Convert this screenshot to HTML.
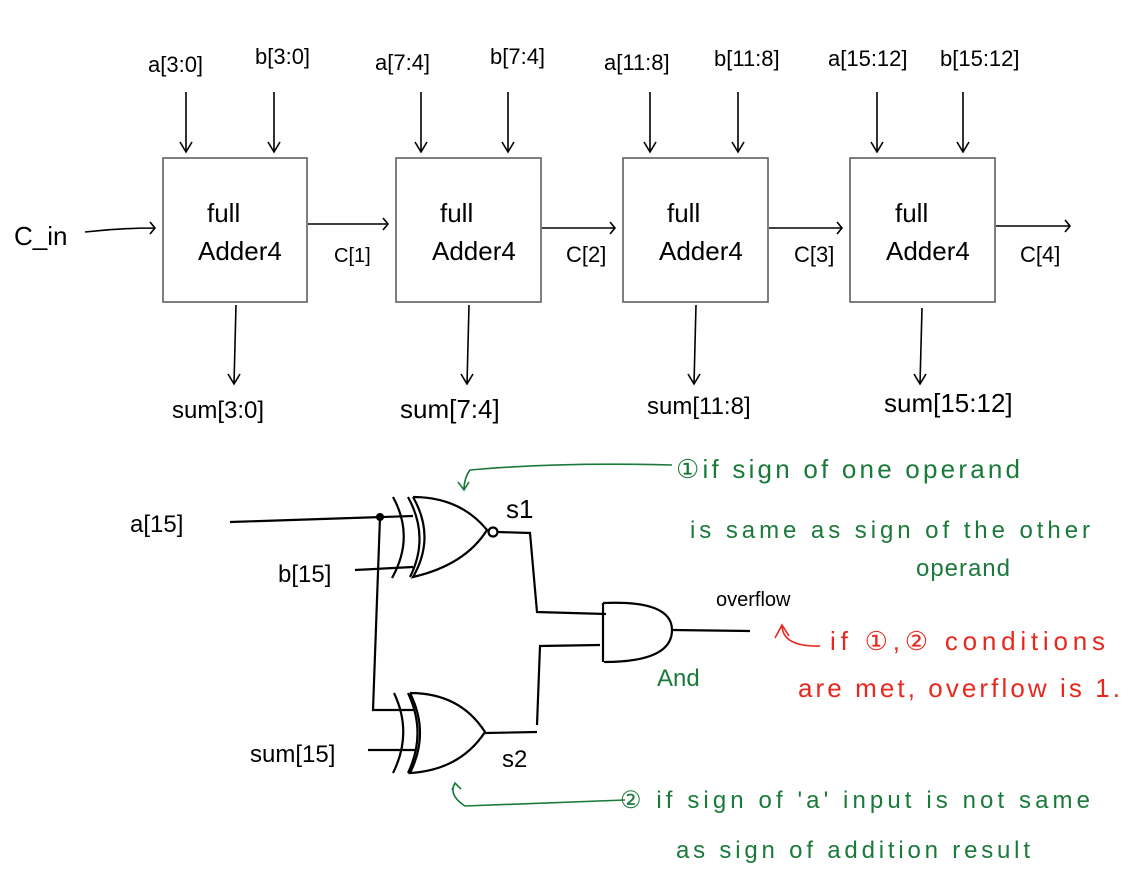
<!DOCTYPE html>
<html><head><style>
html,body{margin:0;padding:0;background:#fff;}
svg text{font-family:"Liberation Sans",sans-serif;}
</style></head><body>
<svg width="1130" height="882" viewBox="0 0 1130 882" xmlns="http://www.w3.org/2000/svg">
<g fill="none" stroke="#555" stroke-width="1.5">
<rect x="163" y="158" width="144" height="144"/>
<rect x="396" y="158" width="145" height="144"/>
<rect x="623" y="158" width="145" height="144"/>
<rect x="850" y="158" width="145" height="144"/>
</g>
<g fill="none" stroke="#000" stroke-width="1.6">
<path d="M186 92V152M180 142l6 10 6-10"/>
<path d="M274 92V152M268 142l6 10 6-10"/>
<path d="M421 92V152M415 142l6 10 6-10"/>
<path d="M508 92V152M502 142l6 10 6-10"/>
<path d="M650 92V152M644 142l6 10 6-10"/>
<path d="M738 92V152M732 142l6 10 6-10"/>
<path d="M877 92V152M871 142l6 10 6-10"/>
<path d="M963 92V152M957 142l6 10 6-10"/>
<path d="M85 232Q120 228 155 228M150 222l5 6-5 6"/>
<path d="M308 224H388M383 218l5 6-5 6"/>
<path d="M542 228H615M610 222l5 6-5 6"/>
<path d="M769 228H842M837 222l5 6-5 6"/>
<path d="M996 226H1070M1065 220l5 6-5 6"/>
<path d="M236 305L234 384M228 374l6 10 6-10"/>
<path d="M469 305L467 384M461 374l6 10 6-10"/>
<path d="M696 305L694 384M688 374l6 10 6-10"/>
<path d="M922 308L920 384M914 374l6 10 6-10"/>
</g>
<g font-size="26" fill="#000">
<text x="148" y="72" font-size="22">a[3:0]</text>
<text x="255" y="64" font-size="22">b[3:0]</text>
<text x="375" y="70" font-size="22">a[7:4]</text>
<text x="490" y="64" font-size="22">b[7:4]</text>
<text x="604" y="70" font-size="22">a[11:8]</text>
<text x="714" y="66" font-size="22">b[11:8]</text>
<text x="828" y="66" font-size="22">a[15:12]</text>
<text x="940" y="66" font-size="22">b[15:12]</text>
<text x="207" y="222">full</text><text x="198" y="260">Adder4</text>
<text x="440" y="222">full</text><text x="432" y="260">Adder4</text>
<text x="667" y="222">full</text><text x="659" y="260">Adder4</text>
<text x="895" y="222">full</text><text x="886" y="260">Adder4</text>
<text x="14" y="245">C_in</text>
<text x="334" y="262" font-size="20">C[1]</text>
<text x="566" y="262" font-size="22">C[2]</text>
<text x="794" y="262" font-size="22">C[3]</text>
<text x="1020" y="262" font-size="22">C[4]</text>
<text x="172" y="418" font-size="24">sum[3:0]</text>
<text x="400" y="418" font-size="26">sum[7:4]</text>
<text x="647" y="414" font-size="24">sum[11:8]</text>
<text x="884" y="412" font-size="26">sum[15:12]</text>
<text x="130" y="532" font-size="24">a[15]</text>
<text x="278" y="582" font-size="24">b[15]</text>
<text x="250" y="762" font-size="24">sum[15]</text>
<text x="506" y="518" font-size="26">s1</text>
<text x="502" y="767" font-size="24">s2</text>
<text x="716" y="606" font-size="20">overflow</text>
</g>
<g fill="none" stroke="#000" stroke-width="2.2">
<path d="M230 522L413 516"/>
<path d="M355 570L413 567"/>
<path d="M380 517L373 710L415 710"/>
<path d="M368 750L415 750"/>
<path d="M393 497Q415 537 392 578"/>
<path d="M408 497Q430 537 410 577"/>
<path d="M413 497Q460 497 487 530Q465 565 413 577Q436 537 413 497"/>
<circle cx="493" cy="532" r="4.5"/>
<path d="M498 532L530 533L537 612L606 614"/>
<path d="M603 603V662M603 603Q672 600 672 630Q672 662 604 662"/>
<path d="M600 645L540 646L537 725"/>
<path d="M672 630L750 631"/>
<path d="M394 693Q413 733 393 773"/>
<path d="M408 693Q427 733 408 773"/>
<path d="M410 693Q460 693 485 732Q460 770 410 773Q430 733 410 693"/>
<path d="M485 733L537 732"/>
</g>
<circle cx="380" cy="517" r="4" fill="#000"/>
<g fill="none" stroke="#1a7a3a" stroke-width="1.6">
<path d="M672 465Q560 462 470 470Q464 478 464 490M458 482l6 8 5-8"/>
<path d="M455 783Q448 795 465 806Q550 803 625 800M452 790l3-7 6 6"/>
</g>
<g fill="#1a7a3a" font-size="26">
<text x="676" y="478" textLength="344" lengthAdjust="spacing">①if  sign  of  one  operand</text>
<text x="690" y="538" font-size="24" textLength="400" lengthAdjust="spacing">is same as sign of the other</text>
<text x="916" y="576" font-size="24" textLength="94" lengthAdjust="spacing">operand</text>
<text x="657" y="686" font-size="24">And</text>
<text x="620" y="808" font-size="24" textLength="470" lengthAdjust="spacing">② if sign of 'a' input is not same</text>
<text x="676" y="858" font-size="24" textLength="354" lengthAdjust="spacing">as sign of addition result</text>
</g>
<g fill="#e8281e" font-size="26">
<path d="M775 638L782 625L789 636M782 626Q783 647 820 646" fill="none" stroke="#e8281e" stroke-width="1.6"/>
<text x="830" y="650" textLength="275" lengthAdjust="spacing">if ①,② conditions</text>
<text x="798" y="697" textLength="322" lengthAdjust="spacing">are met, overflow is 1.</text>
</g>
</svg>
</body></html>
